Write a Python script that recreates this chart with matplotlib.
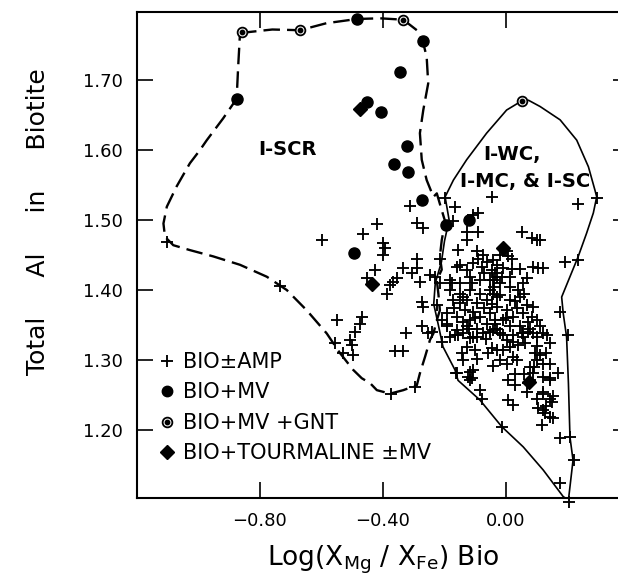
import matplotlib
matplotlib.use("Agg")
import matplotlib.pyplot as plt
from matplotlib.lines import Line2D
from matplotlib.legend_handler import HandlerTuple

# ---------------- data ----------------
amp_pts = [
    (-1.103,1.469),(-0.735,1.406),(-0.375,1.251),(-0.296,1.261),(-0.599,1.471),(-0.464,1.480),
    (-0.420,1.494),(-0.399,1.467),(-0.393,1.460),(-0.399,1.450),(-0.312,1.520),(-0.291,1.495),
    (-0.269,1.488),(-0.198,1.531),(-0.166,1.519),(-0.171,1.499),(-0.047,1.533),(0.235,1.523),
    (0.295,1.532),(-0.090,1.510),(-0.106,1.507),(-0.090,1.483),(-0.128,1.483),(-0.128,1.471),
    (-0.155,1.457),(0.051,1.483),(0.084,1.474),(0.100,1.471),(0.111,1.471),(0.192,1.440),
    (0.235,1.443),(0.105,1.431),(0.121,1.431),(0.046,1.430),(0.089,1.433),(-0.291,1.445),(-0.291,1.431),
    (-0.307,1.424),(-0.334,1.431),(-0.426,1.429),(-0.453,1.417),(-0.356,1.417),(-0.366,1.412),
    (-0.377,1.407),(-0.388,1.395),(-0.280,1.412),(-0.247,1.421),(-0.231,1.419),(-0.215,1.445),
    (-0.182,1.414),(-0.177,1.410),(-0.215,1.410),(-0.274,1.383),(-0.269,1.376),(-0.225,1.379),
    (-0.551,1.357),(-0.469,1.362),(-0.475,1.352),(-0.491,1.340),(-0.507,1.329),(-0.502,1.321),
    (-0.556,1.324),(-0.529,1.310),(-0.497,1.307),(-0.361,1.313),(-0.334,1.313),(-0.325,1.338),
    (-0.274,1.348),(-0.253,1.338),(-0.242,1.340),(-0.209,1.326),(-0.193,1.348),(-0.160,1.343),
    (-0.166,1.336),(-0.182,1.333),(-0.139,1.338),(-0.209,1.357),(-0.193,1.352),(-0.171,1.386),
    (-0.150,1.381),(-0.133,1.371),(-0.106,1.369),(-0.160,1.433),(-0.150,1.436),(-0.128,1.429),
    (-0.106,1.438),(-0.090,1.445),(-0.074,1.450),(-0.095,1.455),(-0.079,1.433),(-0.063,1.440),
    (-0.047,1.429),(-0.030,1.436),(-0.150,1.410),(-0.117,1.419),(-0.085,1.414),(-0.052,1.414),
    (-0.030,1.419),(-0.182,1.400),(-0.150,1.395),(-0.117,1.400),(-0.085,1.395),(-0.052,1.400),
    (-0.128,1.386),(-0.095,1.381),(-0.063,1.386),(-0.030,1.390),(-0.193,1.367),(-0.160,1.362),
    (-0.117,1.357),(-0.085,1.362),(-0.052,1.367),(-0.128,1.348),(-0.095,1.345),(-0.063,1.352),
    (-0.036,1.357),(-0.041,1.343),(-0.074,1.338),(-0.106,1.333),
    (-0.009,1.460),(0.002,1.455),(0.008,1.448),(0.019,1.445),(-0.041,1.443),(-0.009,1.431),
    (-0.036,1.424),(-0.014,1.419),(0.013,1.419),(-0.041,1.414),(-0.020,1.410),(0.013,1.405),
    (0.040,1.400),(0.067,1.417),(0.056,1.410),(0.046,1.390),(-0.041,1.395),(-0.020,1.393),
    (0.013,1.386),(-0.030,1.376),(0.002,1.371),(0.035,1.374),(0.067,1.379),(0.089,1.376),
    (0.024,1.362),(0.056,1.367),(0.084,1.362),(0.100,1.357),(-0.009,1.357),(-0.036,1.352),
    (0.013,1.348),(0.046,1.348),(0.078,1.345),(0.111,1.348),(0.132,1.336),(0.089,1.338),
    (0.056,1.338),(0.024,1.336),(-0.020,1.338),(0.176,1.369),(0.203,1.336),(0.143,1.324),
    (-0.163,1.282),(-0.085,1.257),(-0.079,1.245),(-0.014,1.205),(0.008,1.243),(0.024,1.236),
    (0.176,1.188),(0.208,1.190),(0.221,1.157),(0.176,1.124),(0.205,1.098),(-0.041,1.291),
    (-0.123,1.276),(-0.117,1.271),(-0.144,1.310),(-0.139,1.300),(-0.106,1.286),(-0.095,1.302),
    (0.008,1.271),(0.029,1.264),(0.067,1.255),(0.073,1.267),(0.078,1.271),(0.121,1.255),
    (0.143,1.245),(0.149,1.240),(0.105,1.231),(0.121,1.229),(0.127,1.224),(0.143,1.219),
    (0.154,1.217),(0.116,1.207),(0.143,1.271),(0.170,1.281),(0.143,1.295),(0.121,1.295),
    (0.089,1.281),(0.078,1.290),(0.100,1.300),(0.111,1.307),(0.094,1.310),(0.002,1.295),
    (0.035,1.300),(0.024,1.305),(-0.009,1.314),(0.013,1.319),(0.040,1.321),(-0.047,1.317),
    (-0.030,1.314),(0.062,1.324),(0.056,1.333),(0.051,1.338),(0.073,1.340),(0.121,1.338),
    (0.100,1.333),(-0.117,1.331),(-0.095,1.333),(-0.128,1.319),(-0.101,1.314),(-0.052,1.340),
    (-0.009,1.336),(0.002,1.329),(0.024,1.326),(-0.155,1.336),(-0.160,1.281),(-0.117,1.283),
    (-0.112,1.274),(0.121,1.276),(0.143,1.274),(0.121,1.252),(0.154,1.248),
    (-0.170,1.375),(-0.140,1.390),(-0.110,1.410),(-0.070,1.425),(-0.040,1.405),(-0.100,1.360),
    (-0.070,1.375),(-0.045,1.380),(-0.140,1.355),(-0.120,1.345),(-0.065,1.330),(-0.030,1.345),
    (0.000,1.360),(0.030,1.385),(0.060,1.395),(0.020,1.430),(-0.020,1.450),(0.070,1.355),
    (0.100,1.320),(0.130,1.310),(0.090,1.290),(0.060,1.280),(0.030,1.280),(-0.060,1.310),
    (-0.020,1.300),(0.100,1.245),(0.130,1.235),
]
amp_x = [p[0] for p in amp_pts]
amp_y = [p[1] for p in amp_pts]

mv_x = [-0.485, -0.271, -0.345, -0.876, -0.453, -0.408, -0.323, -0.364, -0.318, -0.274, -0.196, -0.120, -0.494]
mv_y = [1.787, 1.756, 1.712, 1.673, 1.669, 1.654, 1.605, 1.580, 1.569, 1.528, 1.493, 1.500, 1.453]

gnt_x = [-0.860, -0.670, -0.334, 0.051]
gnt_y = [1.768, 1.771, 1.786, 1.670]

tour_x = [-0.475, -0.435, -0.009, 0.075]
tour_y = [1.658, 1.408, 1.460, 1.268]

# I-SCR field boundary (dashed)
scr_x = [-0.865,-0.760,-0.670,-0.584,-0.485,-0.410,-0.334,-0.290,-0.271,-0.258,-0.253,-0.269,-0.280,
         -0.274,-0.258,-0.236,-0.225,-0.209,-0.198,-0.209,-0.215,-0.209,-0.225,-0.220,-0.215,-0.225,
         -0.236,-0.247,-0.263,-0.280,-0.290,-0.334,-0.377,-0.420,-0.442,-0.469,-0.497,-0.540,-0.583,
         -0.648,-0.713,-0.778,-0.865,-0.952,-1.028,-1.082,-1.109,-1.114,-1.103,-1.071,-1.028,-0.995,
         -0.973,-0.920,-0.876,-0.871,-0.865]
scr_y = [1.767,1.772,1.771,1.781,1.787,1.788,1.786,1.771,1.756,1.733,1.695,1.657,1.624,
         1.586,1.557,1.533,1.538,1.514,1.498,1.471,1.448,1.429,1.414,1.395,1.371,1.357,
         1.338,1.329,1.305,1.281,1.264,1.257,1.252,1.257,1.267,1.274,1.286,1.310,1.338,
         1.371,1.400,1.419,1.436,1.448,1.457,1.464,1.476,1.495,1.519,1.548,1.581,1.600,
         1.614,1.645,1.673,1.719,1.767]

# I-WC / I-MC / I-SC field boundary (solid)
wc_x = [0.051,0.002,-0.063,-0.128,-0.171,-0.198,-0.185,-0.200,-0.210,-0.230,-0.235,-0.220,-0.205,
        -0.166,-0.156,-0.085,-0.014,0.056,0.121,0.186,0.203,0.218,0.208,0.203,0.197,0.186,0.181,
        0.208,0.235,0.262,0.284,0.295,0.289,0.268,0.230,0.176,0.111,0.073,0.051]
wc_y = [1.670,1.657,1.624,1.586,1.557,1.533,1.500,1.470,1.440,1.410,1.380,1.350,1.319,
        1.286,1.271,1.243,1.205,1.176,1.143,1.105,1.100,1.157,1.190,1.267,1.333,1.367,1.390,
        1.419,1.448,1.481,1.510,1.533,1.543,1.576,1.614,1.643,1.662,1.671,1.670]

x_ticks = [-0.80, -0.40, 0.00]
x_ticklabels = ["\u22120.80", "\u22120.40", "0.00"]
y_ticks = [1.20, 1.30, 1.40, 1.50, 1.60, 1.70]
y_ticklabels = ["1.20", "1.30", "1.40", "1.50", "1.60", "1.70"]

legend_labels = ["BIO\u00b1AMP", "BIO+MV", "BIO+MV +GNT", "BIO+TOURMALINE \u00b1MV"]

# ---------------- figure ----------------
plt.rcParams['font.family'] = ['DejaVu Sans']
fig = plt.figure(figsize=(6.18, 5.78), dpi=100)
ax = fig.add_axes([137/618, 80/578, (629-137)/618, (498-12)/578])
ax.set_xlim(-1.2, 0.4)
ax.set_ylim(1.103, 1.797)

ax.plot(scr_x, scr_y, color='black', lw=1.7, dashes=(7, 3.0), zorder=2)
ax.plot(wc_x, wc_y, color='black', lw=1.2, zorder=2)

ax.plot(amp_x, amp_y, linestyle='none', marker='+', ms=8.5, mew=1.35, color='black', clip_on=False, zorder=3)
ax.plot(mv_x, mv_y, linestyle='none', marker='o', ms=8, color='black', zorder=4)
ax.plot(gnt_x, gnt_y, linestyle='none', marker='o', ms=7, mfc='white', mec='black', mew=1.3, zorder=4)
ax.plot(gnt_x, gnt_y, linestyle='none', marker='o', ms=3.2, color='black', zorder=5)
ax.plot(tour_x, tour_y, linestyle='none', marker='D', ms=7, color='black', zorder=4)

ax.text(-0.807, 1.600, "I-SCR", fontsize=14, fontweight='bold', ha='left', va='center')
ax.text(-0.075, 1.593, "I-WC,", fontsize=14, fontweight='bold', ha='left', va='center')
ax.text(-0.150, 1.555, "I-MC, & I-SC", fontsize=14, fontweight='bold', ha='left', va='center')

for sp in ax.spines.values():
    sp.set_linewidth(1.5)
ax.set_xticks(x_ticks)
ax.set_xticklabels(x_ticklabels)
ax.set_yticks(y_ticks)
ax.set_yticklabels(y_ticklabels)
ax.tick_params(direction='in', length=11.5, width=1.2, top=True, right=True,
               labelsize=13, pad=10)

h_amp = Line2D([], [], linestyle='none', marker='+', ms=8.5, mew=1.35, color='black')
h_mv = Line2D([], [], linestyle='none', marker='o', ms=7.5, color='black')
h_g1 = Line2D([], [], linestyle='none', marker='o', ms=7, mfc='white', mec='black', mew=1.3)
h_g2 = Line2D([], [], linestyle='none', marker='o', ms=3.2, color='black')
h_t = Line2D([], [], linestyle='none', marker='D', ms=7, color='black')
leg = ax.legend([h_amp, h_mv, (h_g1, h_g2), h_t], legend_labels,
                handler_map={tuple: HandlerTuple(ndivide=1, pad=0)},
                loc='lower left', bbox_to_anchor=(0.02, 0.05), frameon=False,
                fontsize=15, handlelength=0.9, handletextpad=0.35, labelspacing=0.5,
                borderaxespad=0.3, borderpad=0.2)

fig.text(38/618, 1 - 222/578, "Total     Al     in     Biotite", rotation=90, ha='center', va='center', fontsize=18)
fig.text(383/618, 1 - 560/578, r"Log(X$_{\mathregular{Mg}}$ / X$_{\mathregular{Fe}}$) Bio", ha='center', va='center', fontsize=19)

fig.savefig("out.png", dpi=100)
